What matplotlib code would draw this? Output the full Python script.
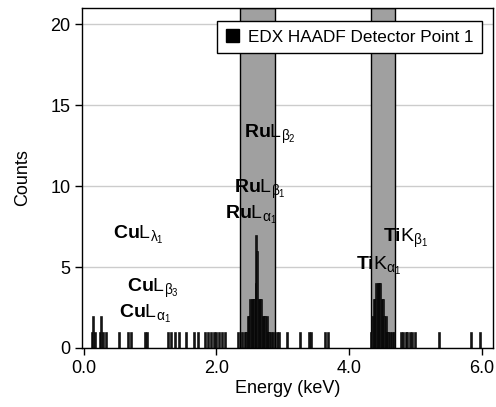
import matplotlib
matplotlib.use("Agg")
import matplotlib.pyplot as plt
from matplotlib.patches import Patch

# spectrum channels (keV) and counts
energy = [0.12, 0.146, 0.17, 0.24, 0.266, 0.29, 0.33, 0.54, 0.67, 0.72, 0.92, 0.95,
          1.27, 1.32, 1.37, 1.43, 1.54, 1.67, 1.72, 1.83, 1.87, 1.92, 1.96, 2.00,
          2.04, 2.08, 2.13, 2.33, 2.39,
          2.43, 2.45, 2.47, 2.49, 2.51, 2.53, 2.55, 2.57, 2.59, 2.60, 2.62, 2.64,
          2.66, 2.68, 2.70, 2.72, 2.74, 2.76, 2.78, 2.80, 2.82, 2.85,
          2.92, 2.95, 3.07, 3.26, 3.40, 3.42, 3.64, 3.68,
          4.33, 4.35, 4.37, 4.39, 4.41, 4.43, 4.45, 4.47, 4.49, 4.51, 4.53, 4.55,
          4.57, 4.59, 4.62, 4.65, 4.68,
          4.79, 4.81, 4.86, 4.88, 4.92, 4.95, 5.00, 5.35, 5.84, 5.98]
counts = [1, 2, 1, 1, 2, 1, 1, 1, 1, 1, 1, 1,
          1, 1, 1, 1, 1, 1, 1, 1, 1, 1, 1, 1,
          1, 1, 1, 1, 1,
          1, 1, 2, 2, 3, 3, 3, 3, 4, 7, 6, 3,
          3, 3, 2, 2, 2, 2, 1, 1, 1, 1,
          1, 1, 1, 1, 1, 1, 1, 1,
          1, 2, 3, 3, 4, 4, 4, 4, 3, 3, 2, 2,
          1, 1, 1, 1, 1,
          1, 1, 1, 1, 1, 1, 1, 1, 1, 1]

# highlighted line windows (keV)
band_lo = [2.35, 4.33]
band_hi = [2.88, 4.69]

# peak labels: element, line symbol, left x, y
lab_elem = ["Cu", "Cu", "Cu", "Ru", "Ru", "Ru", "Ru", "Ti", "Ti"]
lab_line = [r"L_{\lambda_1}", r"L_{\beta_3}", r"L_{\alpha_1}", r"L_{\gamma_1}",
            r"L_{\beta_2}", r"L_{\beta_1}", r"L_{\alpha_1}", r"K_{\beta_1}", r"K_{\alpha_1}"]
lab_x = [0.44, 0.65, 0.54, 2.55, 2.42, 2.27, 2.13, 4.51, 4.11]
lab_y = [7.0, 3.7, 2.1, 19.4, 13.2, 9.8, 8.2, 6.8, 5.1]

plt.rcParams["font.family"] = ["Liberation Sans", "DejaVu Sans"]
plt.rcParams["mathtext.fontset"] = "custom"
plt.rcParams["mathtext.rm"] = "Liberation Sans"
plt.rcParams["mathtext.it"] = "Liberation Sans"
plt.rcParams["mathtext.bf"] = "Liberation Sans:bold"

fig = plt.figure(figsize=(4.96, 4.07), dpi=100)
ax = fig.add_axes([0.166, 0.145, 0.828, 0.835])

for lo, hi in zip(band_lo, band_hi):
    ax.axvspan(lo, hi, facecolor="#a0a0a0", edgecolor="black", lw=1, zorder=1)

ax.bar(energy, counts, width=0.03, color="#151515", edgecolor="black",
       lw=0.4, zorder=3)

for el, ln, x, y in zip(lab_elem, lab_line, lab_x, lab_y):
    ax.text(x, y, r"$\mathbf{%s}\mathrm{%s}$" % (el, ln), fontsize=14,
            ha="left", va="center", zorder=4)

ax.set_xlim(-0.02, 6.17)
ax.set_ylim(0, 21)
ax.set_xticks([0, 2, 4, 6])
ax.set_xticklabels(["0.0", "2.0", "4.0", "6.0"])
ax.set_yticks([0, 5, 10, 15, 20])
ax.yaxis.grid(True, color="#cccccc", lw=1, zorder=0)
ax.set_axisbelow(True)
ax.tick_params(direction="out", length=5, width=1, labelsize=13, colors="black")
for s in ax.spines.values():
    s.set_linewidth(1)
    s.set_zorder(5)

ax.set_xlabel("Energy (keV)", fontsize=13, labelpad=2)
ax.set_ylabel("Counts", fontsize=13, labelpad=14)

leg = ax.legend([Patch(facecolor="black", edgecolor="black")],
                ["EDX HAADF Detector Point 1"], loc="upper right",
                bbox_to_anchor=(0.973, 0.963), borderaxespad=0, fontsize=12.3,
                fancybox=False, framealpha=1, edgecolor="black",
                handlelength=0.8, handleheight=0.8, handletextpad=0.5,
                borderpad=0.5, handler_map=None)
leg.get_frame().set_linewidth(1)
leg.set_zorder(10)

fig.savefig("out.png", dpi=100)
